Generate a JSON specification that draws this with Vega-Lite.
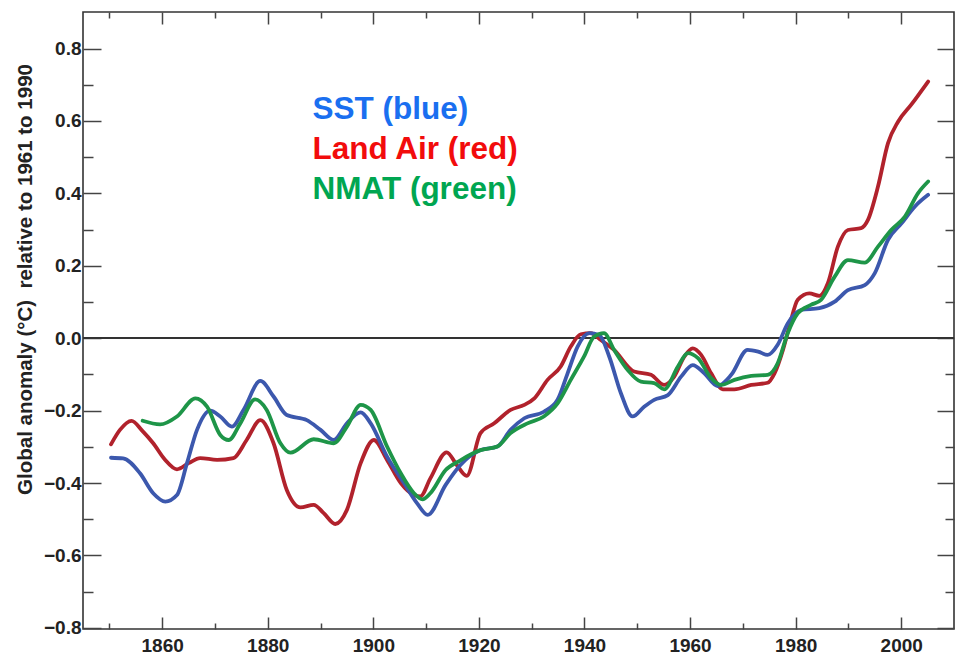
{
  "$schema": "https://vega.github.io/schema/vega-lite/v6.json",
  "width": 871,
  "height": 617,
  "autosize": {"type": "none"},
  "padding": {"left": 83, "top": 12, "right": 8, "bottom": 32},
  "background": "white",
  "config": {
    "view": {"stroke": "#333", "strokeWidth": 1.6},
    "axis": {
      "labelFont": "Liberation Sans",
      "labelFontWeight": "bold",
      "labelFontSize": 19,
      "labelColor": "#222",
      "tickColor": "#444",
      "tickWidth": 1.5,
      "domain": false,
      "grid": false,
      "titleFont": "Liberation Sans",
      "titleFontWeight": "bold",
      "titleColor": "#222"
    }
  },
  "data": {
    "values": [
      {"series": "Land Air (red)", "year": 1850.3, "anomaly": -0.293},
      {"series": "Land Air (red)", "year": 1852.0, "anomaly": -0.253},
      {"series": "Land Air (red)", "year": 1854.2, "anomaly": -0.228},
      {"series": "Land Air (red)", "year": 1856.2, "anomaly": -0.255},
      {"series": "Land Air (red)", "year": 1858.3, "anomaly": -0.29},
      {"series": "Land Air (red)", "year": 1860.5, "anomaly": -0.335},
      {"series": "Land Air (red)", "year": 1862.8, "anomaly": -0.362},
      {"series": "Land Air (red)", "year": 1865.0, "anomaly": -0.345},
      {"series": "Land Air (red)", "year": 1867.2, "anomaly": -0.331},
      {"series": "Land Air (red)", "year": 1870.4, "anomaly": -0.336},
      {"series": "Land Air (red)", "year": 1873.5, "anomaly": -0.331},
      {"series": "Land Air (red)", "year": 1876.0, "anomaly": -0.281},
      {"series": "Land Air (red)", "year": 1878.6, "anomaly": -0.226},
      {"series": "Land Air (red)", "year": 1881.1, "anomaly": -0.29},
      {"series": "Land Air (red)", "year": 1883.6, "anomaly": -0.419},
      {"series": "Land Air (red)", "year": 1886.2, "anomaly": -0.467},
      {"series": "Land Air (red)", "year": 1888.7, "anomaly": -0.46},
      {"series": "Land Air (red)", "year": 1890.6, "anomaly": -0.483},
      {"series": "Land Air (red)", "year": 1892.8, "anomaly": -0.513},
      {"series": "Land Air (red)", "year": 1895.0, "anomaly": -0.474},
      {"series": "Land Air (red)", "year": 1897.6, "anomaly": -0.345},
      {"series": "Land Air (red)", "year": 1900.1, "anomaly": -0.281},
      {"series": "Land Air (red)", "year": 1902.6, "anomaly": -0.336},
      {"series": "Land Air (red)", "year": 1905.2, "anomaly": -0.4},
      {"series": "Land Air (red)", "year": 1907.7, "anomaly": -0.433},
      {"series": "Land Air (red)", "year": 1908.9, "anomaly": -0.437},
      {"series": "Land Air (red)", "year": 1910.8, "anomaly": -0.387},
      {"series": "Land Air (red)", "year": 1913.9, "anomaly": -0.315},
      {"series": "Land Air (red)", "year": 1915.8, "anomaly": -0.35},
      {"series": "Land Air (red)", "year": 1917.7, "anomaly": -0.38},
      {"series": "Land Air (red)", "year": 1920.3, "anomaly": -0.262},
      {"series": "Land Air (red)", "year": 1922.9, "anomaly": -0.235},
      {"series": "Land Air (red)", "year": 1926.0, "anomaly": -0.198},
      {"series": "Land Air (red)", "year": 1928.6, "anomaly": -0.184},
      {"series": "Land Air (red)", "year": 1930.5, "anomaly": -0.166},
      {"series": "Land Air (red)", "year": 1933.0, "anomaly": -0.115},
      {"series": "Land Air (red)", "year": 1935.5, "anomaly": -0.078},
      {"series": "Land Air (red)", "year": 1937.4, "anomaly": -0.023},
      {"series": "Land Air (red)", "year": 1939.3, "anomaly": 0.011},
      {"series": "Land Air (red)", "year": 1941.2, "anomaly": 0.014},
      {"series": "Land Air (red)", "year": 1943.1, "anomaly": -0.005},
      {"series": "Land Air (red)", "year": 1945.6, "anomaly": -0.032},
      {"series": "Land Air (red)", "year": 1949.4, "anomaly": -0.092},
      {"series": "Land Air (red)", "year": 1952.6, "anomaly": -0.101},
      {"series": "Land Air (red)", "year": 1955.1, "anomaly": -0.129},
      {"series": "Land Air (red)", "year": 1957.0, "anomaly": -0.106},
      {"series": "Land Air (red)", "year": 1958.9, "anomaly": -0.051},
      {"series": "Land Air (red)", "year": 1960.5, "anomaly": -0.028},
      {"series": "Land Air (red)", "year": 1962.1, "anomaly": -0.046},
      {"series": "Land Air (red)", "year": 1964.0, "anomaly": -0.097},
      {"series": "Land Air (red)", "year": 1966.2, "anomaly": -0.141},
      {"series": "Land Air (red)", "year": 1968.4, "anomaly": -0.141},
      {"series": "Land Air (red)", "year": 1971.6, "anomaly": -0.129},
      {"series": "Land Air (red)", "year": 1974.7, "anomaly": -0.123},
      {"series": "Land Air (red)", "year": 1976.0, "anomaly": -0.097},
      {"series": "Land Air (red)", "year": 1977.6, "anomaly": -0.032},
      {"series": "Land Air (red)", "year": 1978.8, "anomaly": 0.032},
      {"series": "Land Air (red)", "year": 1980.4, "anomaly": 0.106},
      {"series": "Land Air (red)", "year": 1982.6, "anomaly": 0.124},
      {"series": "Land Air (red)", "year": 1984.5, "anomaly": 0.117},
      {"series": "Land Air (red)", "year": 1986.1, "anomaly": 0.152},
      {"series": "Land Air (red)", "year": 1988.0, "anomaly": 0.253},
      {"series": "Land Air (red)", "year": 1989.9, "anomaly": 0.299},
      {"series": "Land Air (red)", "year": 1992.4, "anomaly": 0.304},
      {"series": "Land Air (red)", "year": 1993.7, "anomaly": 0.327},
      {"series": "Land Air (red)", "year": 1995.6, "anomaly": 0.419},
      {"series": "Land Air (red)", "year": 1997.5, "anomaly": 0.539},
      {"series": "Land Air (red)", "year": 1999.4, "anomaly": 0.598},
      {"series": "Land Air (red)", "year": 2001.9, "anomaly": 0.645},
      {"series": "Land Air (red)", "year": 2005.1, "anomaly": 0.709},

      {"series": "SST (blue)", "year": 1850.3, "anomaly": -0.33},
      {"series": "SST (blue)", "year": 1852.6, "anomaly": -0.332},
      {"series": "SST (blue)", "year": 1855.8, "anomaly": -0.373},
      {"series": "SST (blue)", "year": 1858.3, "anomaly": -0.428},
      {"series": "SST (blue)", "year": 1860.6, "anomaly": -0.451},
      {"series": "SST (blue)", "year": 1862.8, "anomaly": -0.433},
      {"series": "SST (blue)", "year": 1864.7, "anomaly": -0.345},
      {"series": "SST (blue)", "year": 1866.6, "anomaly": -0.253},
      {"series": "SST (blue)", "year": 1869.1, "anomaly": -0.2},
      {"series": "SST (blue)", "year": 1871.0, "anomaly": -0.216},
      {"series": "SST (blue)", "year": 1873.2, "anomaly": -0.244},
      {"series": "SST (blue)", "year": 1875.4, "anomaly": -0.198},
      {"series": "SST (blue)", "year": 1878.6, "anomaly": -0.118},
      {"series": "SST (blue)", "year": 1881.1, "anomaly": -0.161},
      {"series": "SST (blue)", "year": 1883.6, "anomaly": -0.212},
      {"series": "SST (blue)", "year": 1887.4, "anomaly": -0.226},
      {"series": "SST (blue)", "year": 1890.0, "anomaly": -0.253},
      {"series": "SST (blue)", "year": 1892.5, "anomaly": -0.281},
      {"series": "SST (blue)", "year": 1895.0, "anomaly": -0.235},
      {"series": "SST (blue)", "year": 1897.6, "anomaly": -0.205},
      {"series": "SST (blue)", "year": 1899.5, "anomaly": -0.235},
      {"series": "SST (blue)", "year": 1902.6, "anomaly": -0.327},
      {"series": "SST (blue)", "year": 1905.8, "anomaly": -0.4},
      {"series": "SST (blue)", "year": 1908.3, "anomaly": -0.456},
      {"series": "SST (blue)", "year": 1910.3, "anomaly": -0.488},
      {"series": "SST (blue)", "year": 1913.7, "anomaly": -0.405},
      {"series": "SST (blue)", "year": 1916.5, "anomaly": -0.35},
      {"series": "SST (blue)", "year": 1920.3, "anomaly": -0.309},
      {"series": "SST (blue)", "year": 1923.5, "anomaly": -0.299},
      {"series": "SST (blue)", "year": 1926.0, "anomaly": -0.253},
      {"series": "SST (blue)", "year": 1928.6, "anomaly": -0.221},
      {"series": "SST (blue)", "year": 1932.3, "anomaly": -0.203},
      {"series": "SST (blue)", "year": 1934.9, "anomaly": -0.17},
      {"series": "SST (blue)", "year": 1936.8, "anomaly": -0.097},
      {"series": "SST (blue)", "year": 1938.7, "anomaly": -0.023},
      {"series": "SST (blue)", "year": 1940.9, "anomaly": 0.014},
      {"series": "SST (blue)", "year": 1942.8, "anomaly": 0.009},
      {"series": "SST (blue)", "year": 1944.7, "anomaly": -0.051},
      {"series": "SST (blue)", "year": 1946.9, "anomaly": -0.152},
      {"series": "SST (blue)", "year": 1949.1, "anomaly": -0.216},
      {"series": "SST (blue)", "year": 1951.3, "anomaly": -0.189},
      {"series": "SST (blue)", "year": 1953.2, "anomaly": -0.17},
      {"series": "SST (blue)", "year": 1955.8, "anomaly": -0.157},
      {"series": "SST (blue)", "year": 1958.3, "anomaly": -0.106},
      {"series": "SST (blue)", "year": 1960.5, "anomaly": -0.074},
      {"series": "SST (blue)", "year": 1962.7, "anomaly": -0.097},
      {"series": "SST (blue)", "year": 1965.2, "anomaly": -0.132},
      {"series": "SST (blue)", "year": 1967.8, "anomaly": -0.101},
      {"series": "SST (blue)", "year": 1970.9, "anomaly": -0.032},
      {"series": "SST (blue)", "year": 1972.9, "anomaly": -0.037},
      {"series": "SST (blue)", "year": 1974.7, "anomaly": -0.046},
      {"series": "SST (blue)", "year": 1976.6, "anomaly": -0.018},
      {"series": "SST (blue)", "year": 1978.5, "anomaly": 0.041},
      {"series": "SST (blue)", "year": 1981.0, "anomaly": 0.078},
      {"series": "SST (blue)", "year": 1984.5, "anomaly": 0.083},
      {"series": "SST (blue)", "year": 1987.4, "anomaly": 0.101},
      {"series": "SST (blue)", "year": 1989.9, "anomaly": 0.133},
      {"series": "SST (blue)", "year": 1993.1, "anomaly": 0.147},
      {"series": "SST (blue)", "year": 1995.0, "anomaly": 0.18},
      {"series": "SST (blue)", "year": 1997.5, "anomaly": 0.272},
      {"series": "SST (blue)", "year": 2000.1, "anomaly": 0.318},
      {"series": "SST (blue)", "year": 2002.6, "anomaly": 0.364},
      {"series": "SST (blue)", "year": 2005.1, "anomaly": 0.396},

      {"series": "NMAT (green)", "year": 1856.3, "anomaly": -0.228},
      {"series": "NMAT (green)", "year": 1859.6, "anomaly": -0.238},
      {"series": "NMAT (green)", "year": 1862.8, "anomaly": -0.216},
      {"series": "NMAT (green)", "year": 1866.3, "anomaly": -0.166},
      {"series": "NMAT (green)", "year": 1868.5, "anomaly": -0.189},
      {"series": "NMAT (green)", "year": 1871.0, "anomaly": -0.267},
      {"series": "NMAT (green)", "year": 1872.6, "anomaly": -0.281},
      {"series": "NMAT (green)", "year": 1874.8, "anomaly": -0.235},
      {"series": "NMAT (green)", "year": 1877.6, "anomaly": -0.169},
      {"series": "NMAT (green)", "year": 1879.8, "anomaly": -0.198},
      {"series": "NMAT (green)", "year": 1882.4, "anomaly": -0.29},
      {"series": "NMAT (green)", "year": 1884.3, "anomaly": -0.316},
      {"series": "NMAT (green)", "year": 1888.7, "anomaly": -0.279},
      {"series": "NMAT (green)", "year": 1892.5, "anomaly": -0.29},
      {"series": "NMAT (green)", "year": 1895.0, "anomaly": -0.244},
      {"series": "NMAT (green)", "year": 1897.6, "anomaly": -0.184},
      {"series": "NMAT (green)", "year": 1899.5, "anomaly": -0.198},
      {"series": "NMAT (green)", "year": 1902.6, "anomaly": -0.299},
      {"series": "NMAT (green)", "year": 1905.2, "anomaly": -0.373},
      {"series": "NMAT (green)", "year": 1907.7, "anomaly": -0.428},
      {"series": "NMAT (green)", "year": 1909.3, "anomaly": -0.445},
      {"series": "NMAT (green)", "year": 1910.8, "anomaly": -0.428},
      {"series": "NMAT (green)", "year": 1913.7, "anomaly": -0.364},
      {"series": "NMAT (green)", "year": 1916.5, "anomaly": -0.337},
      {"series": "NMAT (green)", "year": 1920.3, "anomaly": -0.309},
      {"series": "NMAT (green)", "year": 1923.5, "anomaly": -0.299},
      {"series": "NMAT (green)", "year": 1926.0, "anomaly": -0.262},
      {"series": "NMAT (green)", "year": 1929.2, "anomaly": -0.235},
      {"series": "NMAT (green)", "year": 1932.3, "anomaly": -0.216},
      {"series": "NMAT (green)", "year": 1934.9, "anomaly": -0.18},
      {"series": "NMAT (green)", "year": 1937.4, "anomaly": -0.115},
      {"series": "NMAT (green)", "year": 1939.9, "anomaly": -0.051},
      {"series": "NMAT (green)", "year": 1941.8, "anomaly": 0.004},
      {"series": "NMAT (green)", "year": 1943.7, "anomaly": 0.014},
      {"series": "NMAT (green)", "year": 1945.6, "anomaly": -0.032},
      {"series": "NMAT (green)", "year": 1948.2, "anomaly": -0.088},
      {"series": "NMAT (green)", "year": 1950.7, "anomaly": -0.12},
      {"series": "NMAT (green)", "year": 1953.2, "anomaly": -0.124},
      {"series": "NMAT (green)", "year": 1955.1, "anomaly": -0.141},
      {"series": "NMAT (green)", "year": 1957.7, "anomaly": -0.078},
      {"series": "NMAT (green)", "year": 1959.6, "anomaly": -0.041},
      {"series": "NMAT (green)", "year": 1961.5, "anomaly": -0.055},
      {"series": "NMAT (green)", "year": 1964.0, "anomaly": -0.11},
      {"series": "NMAT (green)", "year": 1965.9, "anomaly": -0.129},
      {"series": "NMAT (green)", "year": 1968.4, "anomaly": -0.115},
      {"series": "NMAT (green)", "year": 1971.6, "anomaly": -0.104},
      {"series": "NMAT (green)", "year": 1974.7, "anomaly": -0.101},
      {"series": "NMAT (green)", "year": 1976.6, "anomaly": -0.069},
      {"series": "NMAT (green)", "year": 1978.5, "anomaly": 0.014},
      {"series": "NMAT (green)", "year": 1980.4, "anomaly": 0.069},
      {"series": "NMAT (green)", "year": 1982.9, "anomaly": 0.092},
      {"series": "NMAT (green)", "year": 1984.8, "anomaly": 0.106},
      {"series": "NMAT (green)", "year": 1987.4, "anomaly": 0.17},
      {"series": "NMAT (green)", "year": 1989.9, "anomaly": 0.216},
      {"series": "NMAT (green)", "year": 1993.1, "anomaly": 0.209},
      {"series": "NMAT (green)", "year": 1995.6, "anomaly": 0.253},
      {"series": "NMAT (green)", "year": 1998.1, "anomaly": 0.299},
      {"series": "NMAT (green)", "year": 2000.7, "anomaly": 0.336},
      {"series": "NMAT (green)", "year": 2003.2, "anomaly": 0.401},
      {"series": "NMAT (green)", "year": 2005.1, "anomaly": 0.433}
    ]
  },
  "resolve": {"axis": {"x": "independent", "y": "independent"}},
  "layer": [
    {
      "mark": {"type": "rule", "color": "#333", "strokeWidth": 1.5},
      "encoding": {
        "y": {"datum": 0, "type": "quantitative", "scale": {"domain": [-0.803, 0.901], "nice": false, "zero": false}, "axis": null}
      }
    },
    {
      "mark": {"type": "line", "interpolate": "monotone", "strokeWidth": 3.8, "strokeCap": "round", "strokeJoin": "round"},
      "encoding": {
        "x": {
          "field": "year", "type": "quantitative",
          "scale": {"domain": [1845, 2010], "nice": false, "zero": false},
          "axis": {"orient": "bottom", "values": [1860, 1880, 1900, 1920, 1940, 1960, 1980, 2000], "format": "d", "ticks": false, "labelPadding": 7, "title": null}
        },
        "y": {
          "field": "anomaly", "type": "quantitative",
          "scale": {"domain": [-0.803, 0.901], "nice": false, "zero": false},
          "axis": {
            "orient": "left",
            "values": [-0.8, -0.6, -0.4, -0.2, 0, 0.2, 0.4, 0.6, 0.8],
            "labelExpr": "datum.value < -0.01 ? '\u2212' + format(-datum.value, '.1f') : format(datum.value, '.1f')",
            "ticks": false,
            "labelPadding": 2,
            "title": "Global anomaly (\u00b0C)\u00a0 relative to 1961 to 1990",
            "titleFontSize": 20.5,
            "titleAngle": -90,
            "titleAlign": "center",
            "titleBaseline": "middle",
            "titleX": -58,
            "titleY": 267
          }
        },
        "color": {
          "field": "series", "type": "nominal",
          "scale": {"domain": ["SST (blue)", "Land Air (red)", "NMAT (green)"], "range": ["#3c58ad", "#b1222c", "#1e9548"]},
          "legend": {
            "orient": "none",
            "legendX": 198,
            "legendY": 82,
            "title": null,
            "padding": 0,
            "symbolSize": 0,
            "symbolOpacity": 0,
            "symbolStrokeWidth": 0,
            "labelOffset": 0,
            "rowPadding": 7,
            "labelFont": "Liberation Sans",
            "labelFontWeight": "bold",
            "labelFontSize": 31.5,
            "labelLimit": 400,
            "labelColor": {"expr": "datum.label == 'SST (blue)' ? '#1a6ff0' : datum.label == 'Land Air (red)' ? '#f20c0c' : '#00a651'"}
          }
        }
      }
    },
    {
      "mark": {"type": "line", "opacity": 0},
      "encoding": {
        "x": {"field": "year", "type": "quantitative", "axis": {"orient": "bottom", "values": [1860, 1880, 1900, 1920, 1940, 1960, 1980, 2000], "labels": false, "tickSize": -12, "title": null}},
        "y": {"field": "anomaly", "type": "quantitative", "axis": {"orient": "left", "values": [-0.8, -0.6, -0.4, -0.2, 0, 0.2, 0.4, 0.6, 0.8], "labels": false, "tickSize": -18, "title": null}}
      }
    },
    {
      "mark": {"type": "line", "opacity": 0},
      "encoding": {
        "x": {"field": "year", "type": "quantitative", "axis": {"orient": "bottom", "values": [1850, 1870, 1890, 1910, 1930, 1950, 1970, 1990], "labels": false, "tickSize": -6, "title": null}},
        "y": {"field": "anomaly", "type": "quantitative", "axis": {"orient": "left", "values": [-0.7, -0.5, -0.3, -0.1, 0.1, 0.3, 0.5, 0.7], "labels": false, "tickSize": -10, "title": null}}
      }
    },
    {
      "mark": {"type": "line", "opacity": 0},
      "encoding": {
        "x": {"field": "year", "type": "quantitative", "axis": {"orient": "top", "values": [1860, 1880, 1900, 1920, 1940, 1960, 1980, 2000], "labels": false, "tickSize": -12, "title": null}},
        "y": {"field": "anomaly", "type": "quantitative", "axis": {"orient": "right", "values": [-0.8, -0.6, -0.4, -0.2, 0, 0.2, 0.4, 0.6, 0.8], "labels": false, "tickSize": -17, "title": null}}
      }
    },
    {
      "mark": {"type": "line", "opacity": 0},
      "encoding": {
        "x": {"field": "year", "type": "quantitative", "axis": {"orient": "top", "values": [1850, 1870, 1890, 1910, 1930, 1950, 1970, 1990], "labels": false, "tickSize": -6, "title": null}},
        "y": {"field": "anomaly", "type": "quantitative", "axis": {"orient": "right", "values": [-0.7, -0.5, -0.3, -0.1, 0.1, 0.3, 0.5, 0.7], "labels": false, "tickSize": -9, "title": null}}
      }
    }
  ]
}
